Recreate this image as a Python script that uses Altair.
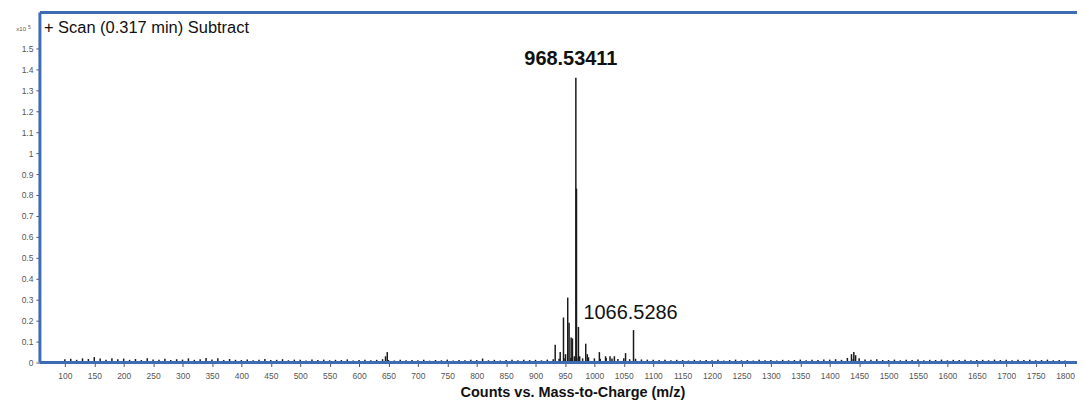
import altair as alt
import pandas as pd

# ---- data (intensities in units of 10^5 counts) ----
noise_mz = list(range(100, 1801, 10))
noise_h = [
    0.016, 0.018, 0.013, 0.020, 0.017, 0.026, 0.019, 0.014, 0.021, 0.016,
    0.019, 0.013, 0.017, 0.012, 0.021, 0.015, 0.014, 0.018, 0.012, 0.016,
    0.014, 0.020, 0.013, 0.016, 0.022, 0.015, 0.021, 0.012, 0.017, 0.013,
    0.012, 0.015, 0.011, 0.014, 0.017, 0.012, 0.013, 0.016, 0.011, 0.014,
    0.013, 0.010, 0.015, 0.012, 0.014, 0.011, 0.013, 0.012, 0.015, 0.010,
    0.012, 0.014, 0.011, 0.013, 0.016, 0.012, 0.010, 0.013, 0.011, 0.012,
    0.011, 0.013, 0.009, 0.012, 0.011, 0.014, 0.010, 0.012, 0.011, 0.013,
    0.012, 0.019, 0.011, 0.013, 0.010, 0.012, 0.014, 0.011, 0.013, 0.012,
    0.013, 0.011, 0.014, 0.016, 0.018, 0.020, 0.022, 0.024, 0.020, 0.025,
    0.020, 0.018, 0.022, 0.019, 0.017, 0.020, 0.016, 0.018, 0.015, 0.014,
    0.013, 0.012, 0.014, 0.011, 0.013, 0.012, 0.010, 0.013, 0.011, 0.012,
    0.011, 0.013, 0.010, 0.012, 0.014, 0.011, 0.012, 0.010, 0.013, 0.011,
    0.012, 0.010, 0.013, 0.011, 0.012, 0.014, 0.011, 0.013, 0.012, 0.015,
    0.014, 0.016, 0.013, 0.022, 0.018, 0.020, 0.015, 0.013, 0.016, 0.012,
    0.012, 0.014, 0.011, 0.013, 0.012, 0.015, 0.011, 0.013, 0.012, 0.014,
    0.011, 0.013, 0.012, 0.014, 0.011, 0.012, 0.013, 0.011, 0.014, 0.012,
    0.013, 0.011, 0.014, 0.012, 0.013, 0.011, 0.012, 0.014, 0.011, 0.012,
    0.010,
]
peak_mz = [645.0, 648.0, 933.4, 941.9, 947.5, 951.0, 954.7, 957.0, 960.5, 962.7,
           966.0, 968.53411, 969.6, 972.9, 975.0, 985.3, 988.0, 1008.5, 1019.0,
           1026.6, 1034.0, 1053.0, 1066.5286, 1437.0, 1441.0, 1444.0]
peak_h = [0.030, 0.050, 0.085, 0.050, 0.215, 0.040, 0.310, 0.190, 0.120, 0.115,
          0.030, 1.360, 0.830, 0.170, 0.030, 0.090, 0.040, 0.050, 0.030,
          0.030, 0.030, 0.045, 0.155, 0.040, 0.050, 0.035]
label_mz = [968.53411, 1066.5286]
label_text = ["968.53411", "1066.5286"]
x_ticks = list(range(100, 1801, 50))
y_ticks = [0, 0.1, 0.2, 0.3, 0.4, 0.5, 0.6, 0.7, 0.8, 0.9, 1.0, 1.1, 1.2, 1.3, 1.4, 1.5]

W, H = 1040, 351
BLUE = "#3d6cb5"
FONT = "Liberation Sans"

spec = pd.DataFrame({"mz": noise_mz + peak_mz, "h": noise_h + peak_h})

xs = alt.Scale(domain=[57.6, 1820.3], nice=False, zero=False)
ys = alt.Scale(domain=[0, 1.671], nice=False)

x_axis = alt.Axis(values=x_ticks, format="d", labelOverlap=False, domain=False, grid=False,
                  tickSize=4, tickColor="#555",
                  labelFontSize=8.5, labelColor="#555", labelPadding=5, labelFont=FONT,
                  title="Counts vs. Mass-to-Charge (m/z)", titleFont=FONT, titleFontSize=14.5,
                  titleFontWeight="bold", titleColor="#111", titlePadding=6,
                  titleX=534, titleAlign="center")
y_axis = alt.Axis(values=y_ticks, labelOverlap=False, domain=False, grid=False, tickSize=4,
                  tickColor="#555",
                  labelFontSize=8.5, labelColor="#555", labelPadding=3, labelFont=FONT,
                  format="~g", title=None)

sticks = alt.Chart(spec).mark_rule(color="#1a1a1a", strokeWidth=1.5).encode(
    x=alt.X("mz:Q", scale=xs, axis=x_axis),
    y=alt.Y("h:Q", scale=ys, axis=y_axis),
    y2=alt.Y2Datum(0),
)

one = pd.DataFrame({"k": [0]})
left_border = alt.Chart(one).mark_rule(color=BLUE, strokeWidth=3).encode(
    x=alt.value(0), y=alt.value(0), y2=alt.value(H))
top_border = alt.Chart(one).mark_rule(color=BLUE, strokeWidth=3).encode(
    x=alt.value(0), x2=alt.value(W), y=alt.value(0))
bottom_border = alt.Chart(one).mark_rule(color=BLUE, strokeWidth=3).encode(
    x=alt.value(0), x2=alt.value(W), y=alt.value(H))

title = alt.Chart(one).mark_text(align="left", baseline="middle", fontSize=16.5, font=FONT,
                                 color="#111").encode(
    x=alt.value(4), y=alt.value(16), text=alt.value("+ Scan (0.317 min) Subtract"))
mult = alt.Chart(one).mark_text(align="right", baseline="middle", fontSize=6, font=FONT,
                                color="#555").encode(
    x=alt.value(-14), y=alt.value(17), text=alt.value("x10"))
mult_exp = alt.Chart(one).mark_text(align="left", baseline="middle", fontSize=5, font=FONT,
                                    color="#555").encode(
    x=alt.value(-12), y=alt.value(15), text=alt.value("5"))

lab = pd.DataFrame({"mz": label_mz, "t": label_text})
lab1 = alt.Chart(lab.iloc[[0]]).mark_text(fontSize=20, fontWeight="bold", font=FONT,
                                          color="#111", baseline="middle", dx=-5).encode(
    x=alt.X("mz:Q", scale=xs, axis=x_axis), y=alt.YDatum(1.447, scale=ys, axis=y_axis),
    text="t:N")
lab2 = alt.Chart(lab.iloc[[1]]).mark_text(fontSize=20, font=FONT, color="#111",
                                          baseline="middle", dx=-3).encode(
    x=alt.X("mz:Q", scale=xs, axis=x_axis), y=alt.YDatum(0.235, scale=ys, axis=y_axis),
    text="t:N")

chart = alt.layer(sticks, left_border, top_border, bottom_border, title, mult, mult_exp,
                  lab1, lab2).properties(
    width=W, height=H,
    autosize=alt.AutoSizeParams(type="none"),
    padding={"left": 32, "top": 4, "right": 0, "bottom": 40},
).configure_view(stroke=None).configure(background="white")

chart.save("out.html", embed_options={"renderer": "svg", "actions": False})
